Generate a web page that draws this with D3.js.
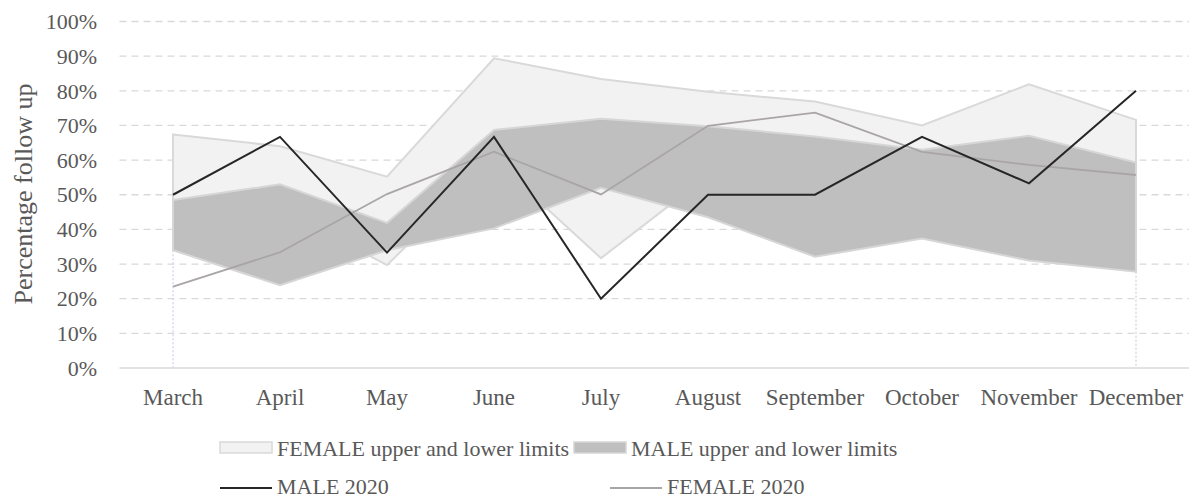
<!DOCTYPE html>
<html>
<head>
<meta charset="utf-8">
<script src="https://cdn.jsdelivr.net/npm/d3@7"></script>
<style>
  html, body { margin: 0; padding: 0; background: #fff; }
  svg { display: block; }
  text { font-family: "Liberation Serif", "Times New Roman", serif; fill: #595959; }
</style>
</head>
<body>
<svg id="chart" width="1189" height="499"></svg>
<script>
const months = ["March","April","May","June","July","August","September","October","November","December"];
const femaleUpper = [67.4, 64, 55.2, 89.4, 83.4, 79.7, 76.9, 70, 81.9, 71.6];
const femaleLower = [36, 46, 29.7, 60, 31.7, 55.5, 45, 38, 40, 35];
const maleUpper = [48.5, 53, 41.9, 68.7, 71.9, 69.8, 66.8, 63, 67, 59.3];
const maleLower = [34, 23.9, 34, 40.3, 52, 43.5, 32.1, 37.4, 31, 27.8];
const male2020 = [50, 66.7, 33.3, 66.7, 20, 50, 50, 66.7, 53.3, 80];
const female2020 = [23.5, 33.4, 50.2, 62.4, 50.1, 69.9, 73.7, 62.4, 58.6, 55.7];
const yTicks = [0,10,20,30,40,50,60,70,80,90,100];

const svg = d3.select("#chart");
const x = d3.scaleBand().domain(months).range([119.5, 1189.5]);
const cx = m => x(m) + x.bandwidth() / 2;
const y = d3.scaleLinear().domain([0, 100]).range([368, 21.5]);

// gridlines
svg.append("g").selectAll("line").data(yTicks.filter(d => d > 0)).join("line")
  .attr("x1", 119.5).attr("x2", 1189)
  .attr("y1", d => y(d)).attr("y2", d => y(d))
  .attr("stroke", "#d9d9d9").attr("stroke-width", 1.3).attr("stroke-dasharray", "7,5");

// y tick labels
svg.append("g").selectAll("text").data(yTicks).join("text")
  .attr("x", 97).attr("y", d => y(d)).attr("dy", "0.35em")
  .attr("text-anchor", "end").style("font-size", "22px")
  .text(d => d + "%");

// dotted edges of hidden base series
svg.append("g").selectAll("line").data([0, months.length - 1]).join("line")
  .attr("x1", i => cx(months[i])).attr("x2", i => cx(months[i]))
  .attr("y1", i => y(maleLower[i])).attr("y2", y(0))
  .attr("stroke", "#d3dbeb").attr("stroke-width", 1.5).attr("stroke-dasharray", "2,2");

const idx = d3.range(months.length);
const band = (up, lo) => d3.area().x(i => cx(months[i])).y0(i => y(lo[i])).y1(i => y(up[i]))(idx);

svg.append("path").attr("d", band(femaleUpper, femaleLower))
  .attr("fill", "#f2f2f2").attr("stroke", "#d9d9d9").attr("stroke-width", 2).attr("stroke-linejoin", "miter");
svg.append("path").attr("d", band(maleUpper, maleLower))
  .attr("fill", "#bfbfbf").attr("stroke", "#d6d6d6").attr("stroke-width", 2).attr("stroke-linejoin", "miter");

// x axis line
svg.append("line").attr("x1", 119.5).attr("x2", 1189).attr("y1", y(0)).attr("y2", y(0))
  .attr("stroke", "#d9d9d9").attr("stroke-width", 1.5);

const line = vals => d3.line().x(i => cx(months[i])).y(i => y(vals[i]))(idx);
svg.append("path").attr("d", line(female2020)).attr("fill", "none")
  .attr("stroke", "#a9a5a5").attr("stroke-width", 1.8);
svg.append("path").attr("d", line(male2020)).attr("fill", "none")
  .attr("stroke", "#262626").attr("stroke-width", 2);

// category labels
svg.append("g").selectAll("text").data(months).join("text")
  .attr("x", d => cx(d)).attr("y", 405)
  .attr("text-anchor", "middle").style("font-size", "23px")
  .text(d => d);

// axis title
svg.append("text").attr("transform", "translate(32,194) rotate(-90)")
  .attr("text-anchor", "middle").style("font-size", "26px")
  .text("Percentage follow up");

// legend
const lg = svg.append("g").style("font-size", "22px");
lg.append("rect").attr("x", 220).attr("y", 442).attr("width", 52).attr("height", 11)
  .attr("fill", "#f2f2f2").attr("stroke", "#d9d9d9").attr("stroke-width", 1.5);
lg.append("text").attr("x", 277).attr("y", 448).attr("dy", "0.35em").text("FEMALE upper and lower limits");
lg.append("rect").attr("x", 574).attr("y", 442).attr("width", 52).attr("height", 11)
  .attr("fill", "#bfbfbf").attr("stroke", "#d6d6d6").attr("stroke-width", 1.5);
lg.append("text").attr("x", 631).attr("y", 448).attr("dy", "0.35em").text("MALE upper and lower limits");
lg.append("line").attr("x1", 220).attr("x2", 272).attr("y1", 488).attr("y2", 488)
  .attr("stroke", "#262626").attr("stroke-width", 2);
lg.append("text").attr("x", 277).attr("y", 487).attr("dy", "0.33em").text("MALE 2020");
lg.append("line").attr("x1", 610).attr("x2", 662).attr("y1", 488).attr("y2", 488)
  .attr("stroke", "#a9a5a5").attr("stroke-width", 1.8);
lg.append("text").attr("x", 667).attr("y", 487).attr("dy", "0.33em").text("FEMALE 2020");
</script>
</body>
</html>
